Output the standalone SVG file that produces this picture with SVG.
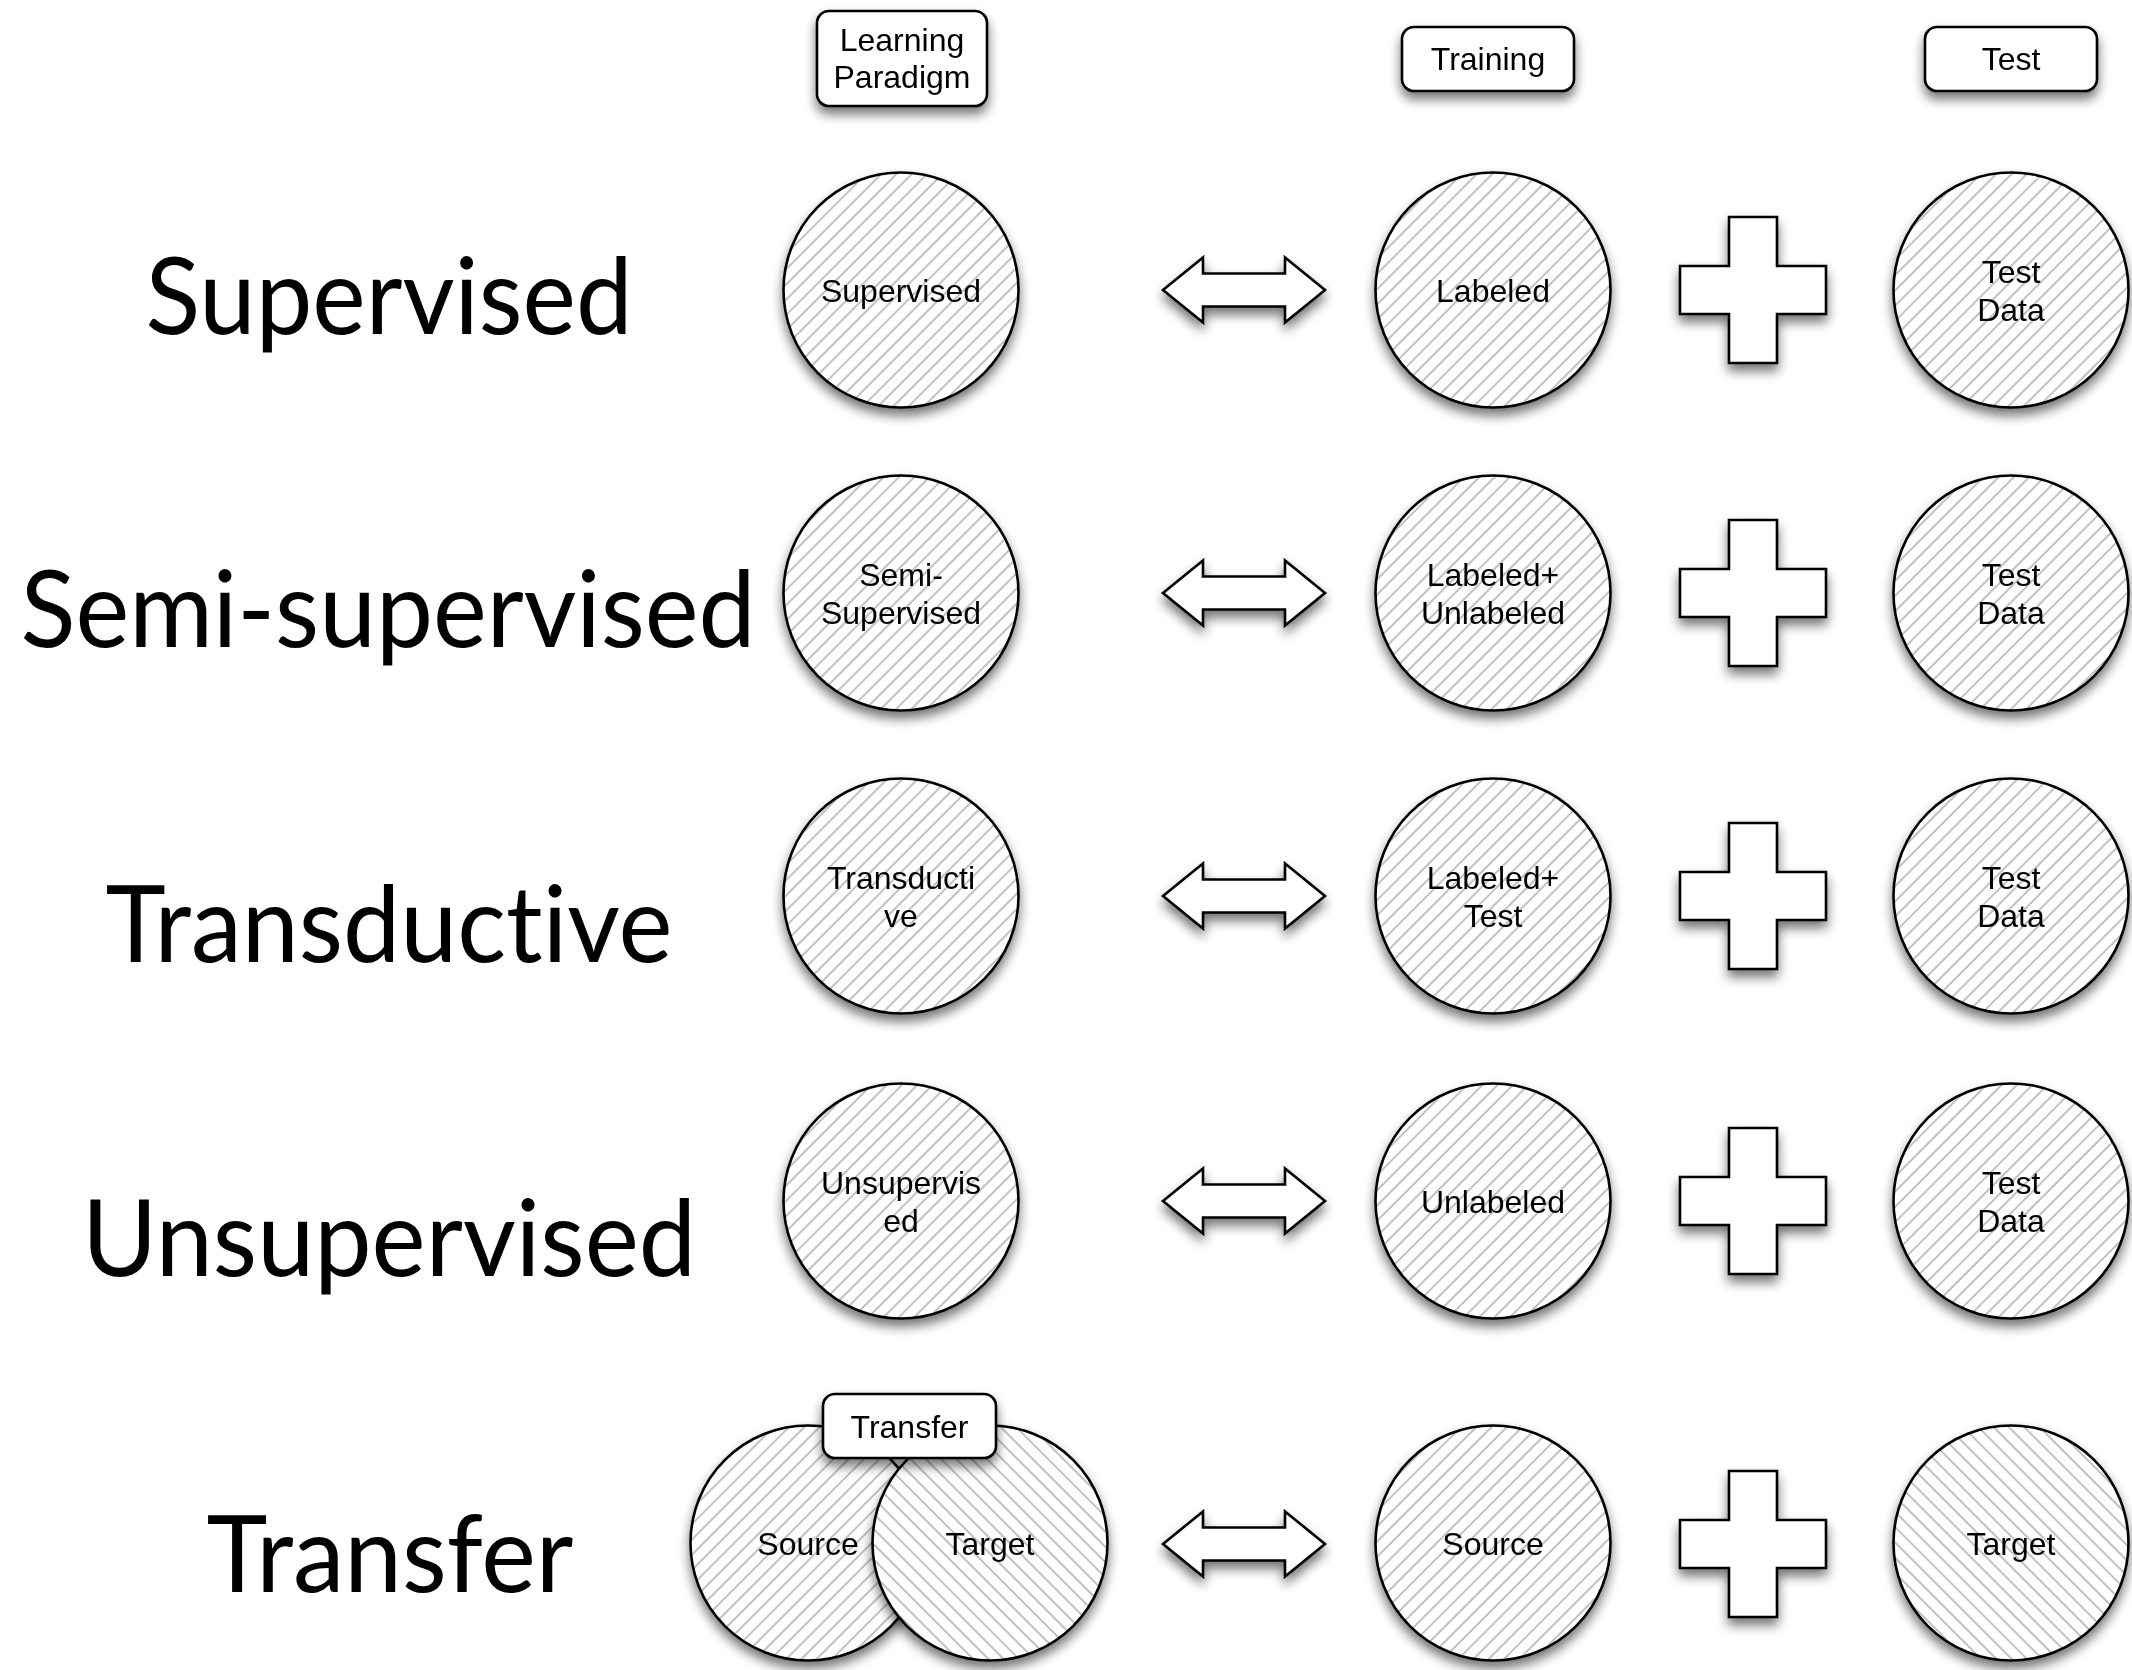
<svg xmlns="http://www.w3.org/2000/svg" width="2132" height="1670" viewBox="0 0 2132 1670">
<style>
.big{font-family:"Lato","Open Sans",sans-serif;font-size:106px;fill:#000;text-anchor:middle;font-variant-ligatures:none;font-feature-settings:"liga" 0,"clig" 0,"dlig" 0}
.lbl{font-family:"Liberation Sans",Arial,sans-serif;font-size:32px;fill:#000;text-anchor:middle}
.edge{stroke:#000;stroke-width:2.6}
.shape{fill:#fff;stroke:#000;stroke-width:2.6;stroke-linejoin:miter}
.box{fill:#fff;stroke:#000;stroke-width:2.6}
</style>
<defs>
<pattern id="hatchR" patternUnits="userSpaceOnUse" width="10.8" height="10.8" patternTransform="rotate(45)">
<rect width="10.8" height="10.8" fill="#fff"/>
<line x1="1" y1="0" x2="1" y2="10.8" stroke="#a8a8a8" stroke-width="1.4"/>
</pattern>
<pattern id="hatchL" patternUnits="userSpaceOnUse" width="10.8" height="10.8" patternTransform="rotate(-45)">
<rect width="10.8" height="10.8" fill="#fff"/>
<line x1="1" y1="0" x2="1" y2="10.8" stroke="#a8a8a8" stroke-width="1.4"/>
</pattern>
<filter id="sh" x="-25%" y="-25%" width="150%" height="160%">
<feGaussianBlur in="SourceAlpha" stdDeviation="6"/>
<feOffset dx="0" dy="7"/>
<feComponentTransfer><feFuncA type="linear" slope="0.55"/></feComponentTransfer>
<feMerge><feMergeNode/><feMergeNode in="SourceGraphic"/></feMerge>
</filter>
<path id="darrow" d="M-81,0 L-41,-32.5 L-41,-16.5 L41,-16.5 L41,-32.5 L81,0 L41,32.5 L41,16.5 L-41,16.5 L-41,32.5 Z"/>
<path id="plus" d="M-24,-73 H24 V-24 H73 V24 H24 V73 H-24 V24 H-73 V-24 H-24 Z"/>
</defs>
<rect width="2132" height="1670" fill="#fff"/>

<!-- Row titles -->
<g id="row-titles">
<text class="big" x="389" y="334" textLength="487" lengthAdjust="spacingAndGlyphs">Supervised</text>
<text class="big" x="388" y="647" textLength="735" lengthAdjust="spacingAndGlyphs">Semi-supervised</text>
<text class="big" x="389" y="962" textLength="567" lengthAdjust="spacingAndGlyphs">Transductive</text>
<text class="big" x="389" y="1276" textLength="614" lengthAdjust="spacingAndGlyphs">Unsupervised</text>
<text class="big" x="390" y="1592" textLength="367" lengthAdjust="spacingAndGlyphs">Transfer</text>
</g>

<!-- Headers -->
<g id="hdr-paradigm" filter="url(#sh)">
<rect class="box" x="817" y="11" width="170" height="95" rx="12"/>
<text class="lbl" x="902" y="51">Learning</text>
<text class="lbl" x="902" y="88">Paradigm</text>
</g>
<g id="hdr-training" filter="url(#sh)">
<rect class="box" x="1402" y="27" width="172" height="64" rx="12"/>
<text class="lbl" x="1488" y="70">Training</text>
</g>
<g id="hdr-test" filter="url(#sh)">
<rect class="box" x="1925" y="27" width="172" height="64" rx="12"/>
<text class="lbl" x="2011" y="70">Test</text>
</g>

<!-- Row 1 -->
<g id="r1-paradigm" filter="url(#sh)">
<circle cx="901" cy="290" r="117.5" fill="url(#hatchR)" class="edge"/>
<text class="lbl" x="901" y="301.5">Supervised</text>
</g>
<g id="r1-training" filter="url(#sh)">
<circle cx="1493" cy="290" r="117.5" fill="url(#hatchR)" class="edge"/>
<text class="lbl" x="1493" y="301.5">Labeled</text>
</g>
<g id="r1-test" filter="url(#sh)">
<circle cx="2011" cy="290" r="117.5" fill="url(#hatchR)" class="edge"/>
<text class="lbl" x="2011" y="282.5">Test</text>
<text class="lbl" x="2011" y="320.5">Data</text>
</g>

<!-- Row 2 -->
<g id="r2-paradigm" filter="url(#sh)">
<circle cx="901" cy="593" r="117.5" fill="url(#hatchR)" class="edge"/>
<text class="lbl" x="901" y="585.5">Semi-</text>
<text class="lbl" x="901" y="623.5">Supervised</text>
</g>
<g id="r2-training" filter="url(#sh)">
<circle cx="1493" cy="593" r="117.5" fill="url(#hatchR)" class="edge"/>
<text class="lbl" x="1493" y="585.5">Labeled+</text>
<text class="lbl" x="1493" y="623.5">Unlabeled</text>
</g>
<g id="r2-test" filter="url(#sh)">
<circle cx="2011" cy="593" r="117.5" fill="url(#hatchR)" class="edge"/>
<text class="lbl" x="2011" y="585.5">Test</text>
<text class="lbl" x="2011" y="623.5">Data</text>
</g>

<!-- Row 3 -->
<g id="r3-paradigm" filter="url(#sh)">
<circle cx="901" cy="896" r="117.5" fill="url(#hatchR)" class="edge"/>
<text class="lbl" x="901" y="888.5">Transducti</text>
<text class="lbl" x="901" y="926.5">ve</text>
</g>
<g id="r3-training" filter="url(#sh)">
<circle cx="1493" cy="896" r="117.5" fill="url(#hatchR)" class="edge"/>
<text class="lbl" x="1493" y="888.5">Labeled+</text>
<text class="lbl" x="1493" y="926.5">Test</text>
</g>
<g id="r3-test" filter="url(#sh)">
<circle cx="2011" cy="896" r="117.5" fill="url(#hatchR)" class="edge"/>
<text class="lbl" x="2011" y="888.5">Test</text>
<text class="lbl" x="2011" y="926.5">Data</text>
</g>

<!-- Row 4 -->
<g id="r4-paradigm" filter="url(#sh)">
<circle cx="901" cy="1201" r="117.5" fill="url(#hatchR)" class="edge"/>
<text class="lbl" x="901" y="1193.5">Unsupervis</text>
<text class="lbl" x="901" y="1231.5">ed</text>
</g>
<g id="r4-training" filter="url(#sh)">
<circle cx="1493" cy="1201" r="117.5" fill="url(#hatchR)" class="edge"/>
<text class="lbl" x="1493" y="1212.5">Unlabeled</text>
</g>
<g id="r4-test" filter="url(#sh)">
<circle cx="2011" cy="1201" r="117.5" fill="url(#hatchR)" class="edge"/>
<text class="lbl" x="2011" y="1193.5">Test</text>
<text class="lbl" x="2011" y="1231.5">Data</text>
</g>

<!-- Row 5 -->
<g id="r5-source" filter="url(#sh)">
<circle cx="808" cy="1543" r="117.5" fill="url(#hatchR)" class="edge"/>
<text class="lbl" x="808" y="1554.5">Source</text>
</g>
<g id="r5-target" filter="url(#sh)">
<circle cx="990" cy="1543" r="117.5" fill="url(#hatchL)" class="edge"/>
<text class="lbl" x="990" y="1554.5">Target</text>
</g>
<g id="r5-transfer" filter="url(#sh)">
<rect class="box" x="823" y="1394" width="173" height="64" rx="12"/>
<text class="lbl" x="909.5" y="1437.5">Transfer</text>
</g>
<g id="r5-training" filter="url(#sh)">
<circle cx="1493" cy="1543" r="117.5" fill="url(#hatchR)" class="edge"/>
<text class="lbl" x="1493" y="1554.5">Source</text>
</g>
<g id="r5-test" filter="url(#sh)">
<circle cx="2011" cy="1543" r="117.5" fill="url(#hatchL)" class="edge"/>
<text class="lbl" x="2011" y="1554.5">Target</text>
</g>

<!-- Connectors: double arrows and plus signs -->
<g id="connectors" filter="url(#sh)">
<use href="#darrow" class="shape" transform="translate(1244,290)"/>
<use href="#darrow" class="shape" transform="translate(1244,593)"/>
<use href="#darrow" class="shape" transform="translate(1244,896)"/>
<use href="#darrow" class="shape" transform="translate(1244,1201)"/>
<use href="#darrow" class="shape" transform="translate(1244,1544)"/>
<use href="#plus" class="shape" transform="translate(1753,290)"/>
<use href="#plus" class="shape" transform="translate(1753,593)"/>
<use href="#plus" class="shape" transform="translate(1753,896)"/>
<use href="#plus" class="shape" transform="translate(1753,1201)"/>
<use href="#plus" class="shape" transform="translate(1753,1544)"/>
</g>
</svg>
